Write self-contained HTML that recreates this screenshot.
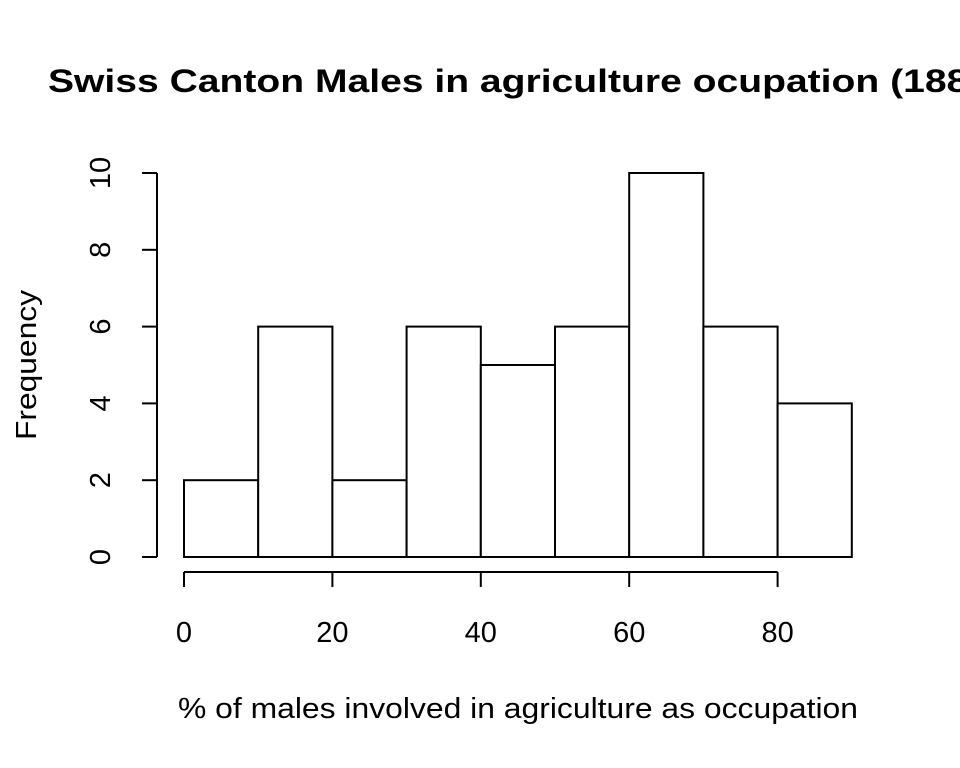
<!DOCTYPE html>
<html><head><meta charset="utf-8"><style>
body{margin:0;background:#fff;width:960px;height:768px;overflow:hidden}
svg{display:block;font-family:"Liberation Sans",Arial,sans-serif}
</style></head><body>
<svg id="chart" width="960" height="768">
<text x="48" y="92" font-size="32" font-weight="bold" textLength="955" lengthAdjust="spacingAndGlyphs">Swiss Canton Males in agriculture ocupation (1888)</text>
<text x="178" y="718" font-size="29" textLength="680" lengthAdjust="spacingAndGlyphs">% of males involved in agriculture as occupation</text>
<text transform="translate(36,365) rotate(-90)" font-size="29" text-anchor="middle" textLength="150" lengthAdjust="spacingAndGlyphs">Frequency</text>
<g id="bars"></g><g id="xaxis"></g><g id="yaxis"></g>
</svg>
<script>
const binEdges=[0,10,20,30,40,50,60,70,80,90];
const counts=[2,6,2,6,5,6,10,6,4];
const xTicks=[0,20,40,60,80];
const yTicks=[0,2,4,6,8,10];
const NS="http://www.w3.org/2000/svg";
const X=v=>184+v*7.42;
const Y=v=>557-v*38.4;
function mk(t,a,p){const e=document.createElementNS(NS,t);for(const k in a)e.setAttribute(k,a[k]);p.appendChild(e);return e;}
const bars=document.getElementById('bars');
counts.forEach((c,i)=>{
 const r=mk('rect',{x:X(binEdges[i]),y:Y(c),width:X(binEdges[i+1])-X(binEdges[i]),height:Y(0)-Y(c),fill:'#fff',stroke:'#000','stroke-width':2},bars);
 
 
});
const xa=document.getElementById('xaxis');


mk('line',{x1:X(xTicks[0]),x2:X(xTicks[xTicks.length-1]),y1:572,y2:572,stroke:'#000','stroke-width':2},xa);
xTicks.forEach(t=>{
 mk('line',{x1:X(t),x2:X(t),y1:572,y2:587,stroke:'#000','stroke-width':2},xa);
 const tx=mk('text',{x:X(t),y:642,'font-size':29,'text-anchor':'middle'},xa);tx.textContent=t;
 
 
});
const ya=document.getElementById('yaxis');


mk('line',{x1:157,x2:157,y1:Y(yTicks[0]),y2:Y(yTicks[yTicks.length-1]),stroke:'#000','stroke-width':2},ya);
yTicks.forEach(t=>{
 mk('line',{x1:142,x2:157,y1:Y(t),y2:Y(t),stroke:'#000','stroke-width':2},ya);
 const tx=mk('text',{transform:`translate(110,${Y(t)}) rotate(-90)`,'font-size':29,'text-anchor':'middle'},ya);tx.textContent=t;
 
 
});
</script>
</body></html>
